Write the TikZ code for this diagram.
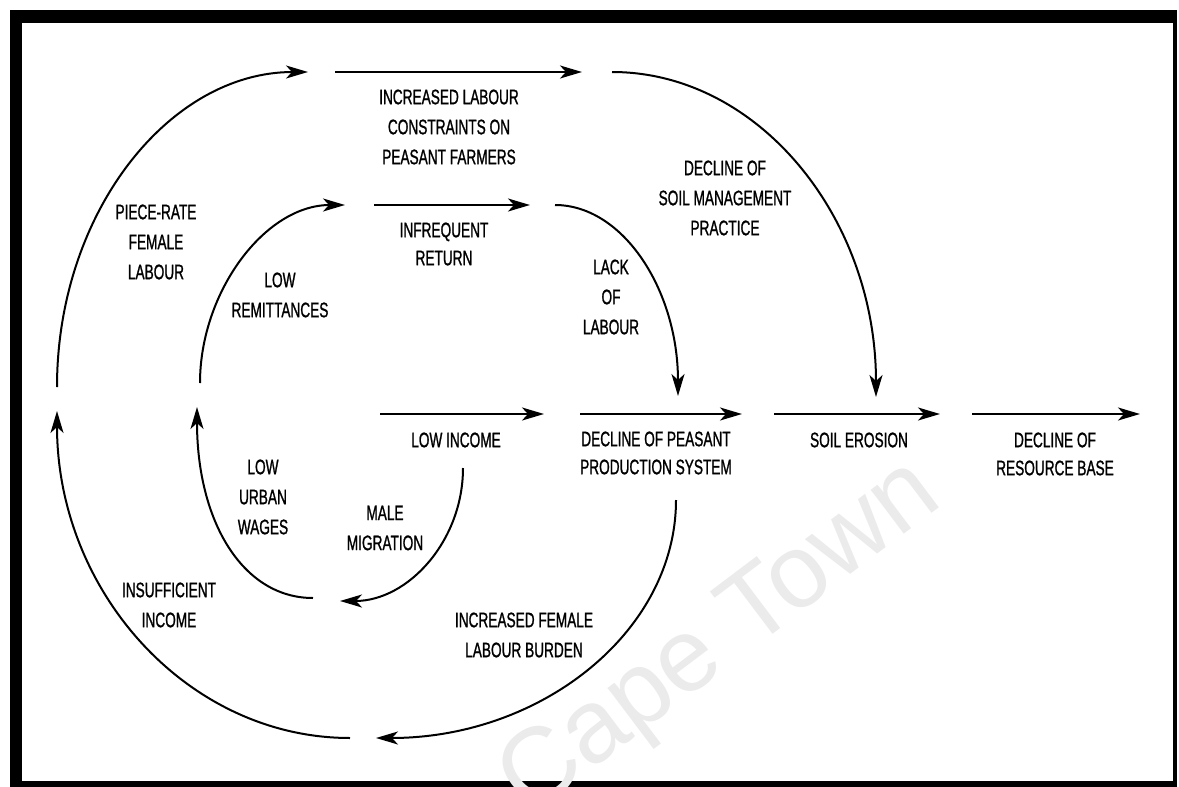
\documentclass[tikz,border=0pt]{standalone}
\usepackage{fontspec}
\setmainfont[FakeStretch=0.65,FakeBold=1]{Liberation Sans}
\newfontfamily\wmfont{Liberation Sans}
\usetikzlibrary{arrows.meta}
\begin{document}
\begin{tikzpicture}[x=0.5pt,y=-0.5pt,
  lbl/.style={align=center,font=\fontsize{10.5}{15}\selectfont,inner sep=0pt},
  lbln/.style={lbl,font=\fontsize{10.5}{14}\selectfont},
  flow/.style={line width=1.2pt,-{Stealth[length=11pt,width=6.5pt,inset=3pt]}},
  flowc/.style={line width=1pt,-{Stealth[length=11pt,width=6.5pt,inset=3pt]}},
]
\useasboundingbox (0,0) rectangle (1179,787);
% frame
\fill (10,10) rectangle (1177,787);
\fill[white] (22,23) rectangle (1173,781);
% watermark
\node[rotate=37, text=black!8, font=\wmfont\fontsize{52}{56}\selectfont, inner sep=0pt] (wm) at (722,640) {Cape Town};

% labels
\node[lbl] (incl) at (449,127) {INCREASED LABOUR\\CONSTRAINTS ON\\PEASANT FARMERS};
\node[lbl] (piece) at (156,242) {PIECE-RATE\\FEMALE\\LABOUR};
\node[lbln] (infr) at (444,244) {INFREQUENT\\RETURN};
\node[lbl] (lowrem) at (280,295) {LOW\\REMITTANCES};
\node[lbl] (lack) at (611,297) {LACK\\OF\\LABOUR};
\node[lbl] (dsoil) at (725,198) {DECLINE OF\\SOIL MANAGEMENT\\PRACTICE};
\node[lbl] (lowinc) at (456,440) {LOW INCOME};
\node[lbln] (dpeas) at (656,453) {DECLINE OF PEASANT\\PRODUCTION SYSTEM};
\node[lbl] (soiler) at (859,440) {SOIL EROSION};
\node[lbln] (dres) at (1055,454) {DECLINE OF\\RESOURCE BASE};
\node[lbl] (lowurb) at (263,497) {LOW\\URBAN\\WAGES};
\node[lbl] (male) at (385,528) {MALE\\MIGRATION};
\node[lbl] (insuf) at (169,605) {INSUFFICIENT\\INCOME};
\node[lbl] (incfem) at (524,635) {INCREASED FEMALE\\LABOUR BURDEN};

% connector end points
\coordinate (p1) at (57,387);   \coordinate (p2) at (308,72);
\coordinate (p3) at (335,72);   \coordinate (p4) at (582,72);
\coordinate (p5) at (612,72);   \coordinate (p6) at (876,397);
\coordinate (q1) at (200,383);  \coordinate (q2) at (345,205);
\coordinate (q3) at (374,205);  \coordinate (q4) at (530,205);
\coordinate (q5) at (555,205);  \coordinate (q6) at (678,396);
\coordinate (m1) at (380,414);  \coordinate (m2) at (544,414);
\coordinate (m3) at (580,414);  \coordinate (m4) at (742,414);
\coordinate (m5) at (774,414);  \coordinate (m6) at (940,414);
\coordinate (m7) at (972,414);  \coordinate (m8) at (1140,414);
\coordinate (b1) at (350,738);  \coordinate (b2) at (57,411);
\coordinate (c1) at (313,598);  \coordinate (c2) at (197,407);
\coordinate (d1) at (463,468);  \coordinate (d2) at (340,601);
\coordinate (e1) at (676,500);  \coordinate (e2) at (376,738);

% connectors
\draw[flowc] (p1) .. controls (57,213) and (169,72) .. (p2);
\draw[flow] (p3) -- (p4);
\draw[flowc] (p5) .. controls (758,72) and (876,217) .. (p6);
\draw[flowc] (q1) .. controls (200,292) and (265,205) .. (q2);
\draw[flow] (q3) -- (q4);
\draw[flowc] (q5) .. controls (623,205) and (678,290) .. (q6);
\draw[flow] (m1) -- (m2);
\draw[flow] (m3) -- (m4);
\draw[flow] (m5) -- (m6);
\draw[flow] (m7) -- (m8);
\draw[flowc] (b1) .. controls (188,738) and (57,592) .. (b2);
\draw[flowc] (c1) .. controls (243,598) and (197,522) .. (c2);
\draw[flowc] (d1) .. controls (463,541) and (408,601) .. (d2);
\draw[flowc] (e1) .. controls (676,631) and (542,738) .. (e2);
\end{tikzpicture}
\end{document}
